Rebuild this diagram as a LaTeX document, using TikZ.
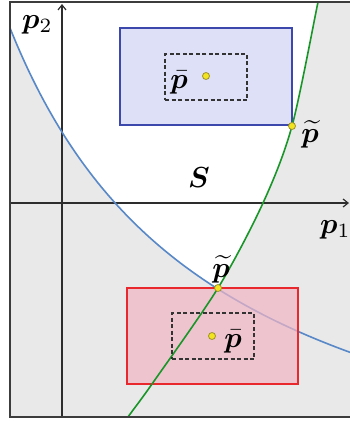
\documentclass[tikz,border=0pt]{standalone}
\usepackage{amsmath,bm}
\usetikzlibrary{arrows.meta}
\definecolor{greyfill}{RGB}{233,233,233}
\definecolor{framecol}{RGB}{60,60,60}
\definecolor{axiscol}{RGB}{45,45,45}
\definecolor{curveblue}{RGB}{88,136,200}
\definecolor{curvegreen}{RGB}{24,150,40}
\definecolor{rectblue}{RGB}{60,72,172}
\definecolor{fillblue}{RGB}{221,224,246}
\definecolor{rectred}{RGB}{232,40,44}
\definecolor{fillred}{RGB}{241,181,196}
\definecolor{dotyellow}{RGB}{242,228,30}
\definecolor{dotedge}{RGB}{160,145,40}
\newcommand\biglbl[1]{\scalebox{2.9}{#1}}
\tikzset{
  lab/.style={inner sep=0pt},
  dot/.style={circle, fill=dotyellow, draw=dotedge, line width=0.8pt, inner sep=0pt, minimum size=7pt},
  axis/.style={draw=axiscol, line width=1.2pt, -{Straight Barb[length=5pt,width=8pt,line width=1.2pt]}},
  dashbox/.style={draw=black!80, line width=1.2pt, dash pattern=on 4pt off 2.5pt},
  region/.style={line width=2pt},
  bluecurve/.style={curveblue, line width=1.6pt},
  greencurve/.style={curvegreen, line width=1.6pt},
}
\begin{document}
\begin{tikzpicture}[x=1pt,y=-1pt]
\useasboundingbox (0,0) rectangle (349,421);
\begin{scope}
  \clip (10,2) rectangle (360,417);
  \fill[greyfill] (10,2) rectangle (360,417);
  \begin{scope}
    \clip plot[smooth] coordinates {(120,430) (128,417) (152,384) (218,288) (263,203) (292,126) (318,2) (320,-8)} -- (0,-8) -- (0,430) -- cycle;
    \fill[white] plot[domain=4:365, samples=90] (\x, {552.6 - 1101.66/((\x+200)/100)}) -- (365,-8) -- (4,-8) -- cycle;
  \end{scope}
  \coordinate (yb) at (62,417);
  \coordinate (yt) at (62,4);
  \coordinate (xl) at (10,203);
  \coordinate (xr) at (349,203);
  \draw[axis] (yb) -- (yt);
  \draw[axis] (xl) -- (xr);
  \draw[bluecurve] plot[domain=4:365, samples=90] (\x, {552.6 - 1101.66/((\x+200)/100)});
\end{scope}
% blue box
\draw[region, draw=rectblue, fill=fillblue] (120,28) rectangle (292,125);
% red box
\draw[region, draw=rectred, fill=fillred, fill opacity=0.7] (127,288) rectangle (298,384);
\begin{scope}
  \clip (10,2) rectangle (360,417);
  \draw[greencurve] plot[smooth] coordinates {(120,430) (128,417) (152,384) (218,288) (263,203) (292,126) (318,2) (320,-8)};
\end{scope}
\node[dashbox, minimum width=82pt, minimum height=46pt] (db1) at (206,77) {};
\node[dot] (pb1) at (206,76) {};
\node[lab, anchor=base] (lbar1) at (179,88) {\biglbl{$\bar{\bm p}$}};
\node[dot] (pt1) at (292,126) {};
\node[lab, anchor=base] (ltil1) at (310,142) {\biglbl{$\widetilde{\bm p}$}};
\node[dashbox, minimum width=82pt, minimum height=46pt] (db2) at (213,336) {};
\node[dot] (pb2) at (212,336) {};
\node[lab, anchor=base] (lbar2) at (233,347) {\biglbl{$\bar{\bm p}$}};
\node[dot] (pt2) at (218,288) {};
\node[lab, anchor=base] (ltil2) at (221,277) {\biglbl{$\widetilde{\bm p}$}};
% labels
\node[lab, anchor=base] (lS) at (199,187) {\biglbl{$\bm S$}};
\node[lab, anchor=base west] (lp2) at (22,28) {\biglbl{$\bm p_2$}};
\node[lab, anchor=base west] (lp1) at (320,233) {\biglbl{$\bm p_1$}};
% frame
\draw[framecol, line width=2pt] (355,2) -- (10,2) -- (10,417) -- (355,417);
\end{tikzpicture}
\end{document}
